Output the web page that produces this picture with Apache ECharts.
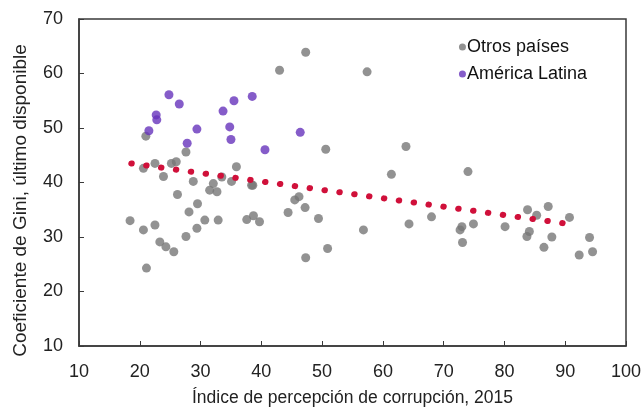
<!DOCTYPE html>
<html>
<head>
<meta charset="utf-8">
<script src="https://cdn.jsdelivr.net/npm/echarts@6/dist/echarts.min.js"></script>
<style>
  html, body { margin: 0; padding: 0; background: #fff; }
  #chart { width: 642px; height: 409px; }
</style>
</head>
<body>
<div id="chart"></div>
<script>
'use strict';

// Otros países: [índice de corrupción, Gini]
var otrosX = [47.3, 43.0, 57.4, 50.6, 63.8, 61.4, 38.6, 45.5, 46.2, 47.2, 44.4, 49.4, 38.7, 39.7,
    50.9, 47.3, 56.8, 64.3, 74.0, 68.0, 73.0, 72.7, 74.9, 73.1, 80.1, 83.8, 85.3, 87.2, 84.1, 83.7,
    87.8, 86.5, 90.7, 94.0, 92.3, 94.5, 18.4, 20.6, 22.5, 23.3, 24.3, 25.6, 21.1, 27.6, 29.4, 30.7,
    32.9, 28.1, 29.5, 26.2, 37.6, 23.9, 20.6, 22.5, 25.2, 28.8, 31.5, 32.7, 32.1, 35.9, 38.4, 35.1,
    27.6, 21.0, 26.0, 33.5];
var otrosY = [63.9, 60.6, 60.3, 46.1, 46.6, 41.5, 39.5, 36.8, 37.4, 35.4, 34.5, 33.4, 33.9, 32.8,
    27.9, 26.2, 31.3, 32.4, 42.0, 33.7, 31.9, 31.3, 32.4, 29.0, 31.9, 35.0, 34.0, 35.6, 31.0, 30.1,
    30.0, 28.1, 33.6, 29.9, 26.7, 27.3, 33.0, 31.3, 32.2, 29.1, 28.2, 27.3, 24.3, 30.1, 31.6, 33.1,
    33.1, 34.6, 36.1, 37.8, 33.2, 41.1, 42.6, 43.5, 43.5, 40.2, 38.6, 38.3, 39.8, 42.9, 39.5, 40.2,
    45.6, 48.5, 43.8, 41.0];

// América Latina
var latamX = [24.8, 26.5, 22.7, 22.8, 21.5, 29.4, 27.8, 33.7, 35.5, 38.5, 34.8, 35.0, 40.6, 46.4];
var latamY = [56.1, 54.4, 52.4, 51.5, 49.5, 49.8, 47.2, 53.1, 55.0, 55.8, 50.2, 47.9, 46.0, 49.2];

// línea de tendencia (extremos)
var trendX = [18.6, 91.8];
var trendY = [43.5, 32.2];

var xTicks = [10, 100, 10];   // min, max, interval
var yTicks = [10, 70, 10];

function pairs(xs, ys) {
    return xs.map(function (x, i) { return [x, ys[i]]; });
}

var font = 'Liberation Sans, Arial, sans-serif';
var chart = echarts.init(document.getElementById('chart'));

chart.setOption({
    animation: false,
    backgroundColor: '#fff',
    grid: {
        left: 79, right: 16, top: 19, bottom: 63,
        outerBoundsMode: 'none',
        show: true, borderColor: '#3a3a3a', borderWidth: 1.5
    },
    legend: {
        orient: 'vertical',
        right: 50, top: 33,
        itemWidth: 7, itemHeight: 7, itemGap: 9,
        textStyle: { fontFamily: font, fontSize: 18, color: '#111', padding: [0, 0, 0, -4] },
        data: [
            { name: 'Otros países', icon: 'circle' },
            { name: 'América Latina', icon: 'circle' }
        ]
    },
    xAxis: {
        type: 'value',
        min: xTicks[0], max: xTicks[1], interval: xTicks[2],
        name: 'Índice de percepción de corrupción, 2015',
        nameLocation: 'middle', nameGap: 43,
        nameTextStyle: { fontFamily: font, fontSize: 17.5, color: '#222' },
        splitLine: { show: false },
        axisLine: { lineStyle: { color: '#3a3a3a', width: 1.5 } },
        axisTick: { inside: true, length: 5, lineStyle: { color: '#3a3a3a' } },
        axisLabel: { fontFamily: font, fontSize: 18, color: '#222', margin: 17 }
    },
    yAxis: {
        type: 'value',
        min: yTicks[0], max: yTicks[1], interval: yTicks[2],
        name: 'Coeficiente de Gini, último disponible',
        nameLocation: 'middle', nameGap: 49,
        nameTextStyle: { fontFamily: font, fontSize: 19, color: '#222', padding: [0, 36, 0, 0] },
        splitLine: { show: false },
        axisLine: { lineStyle: { color: '#3a3a3a', width: 1.5 } },
        axisTick: { inside: true, length: 5, lineStyle: { color: '#3a3a3a' } },
        axisLabel: { fontFamily: font, fontSize: 18, color: '#222', margin: 16 }
    },
    series: [
        {
            name: 'Otros países',
            type: 'scatter',
            symbolSize: 9,
            itemStyle: { color: '#777777' },
            data: pairs(otrosX, otrosY),
            z: 2
        },
        {
            name: 'América Latina',
            type: 'scatter',
            symbolSize: 9,
            itemStyle: { color: '#6633bb' },
            data: pairs(latamX, latamY),
            z: 3
        },
        {
            name: 'Tendencia',
            type: 'line',
            symbol: 'none',
            silent: true,
            lineStyle: { color: '#d0103a', width: 6, type: [0.5, 14.5], cap: 'round' },
            data: pairs(trendX, trendY),
            z: 4
        }
    ]
});
</script>
</body>
</html>
